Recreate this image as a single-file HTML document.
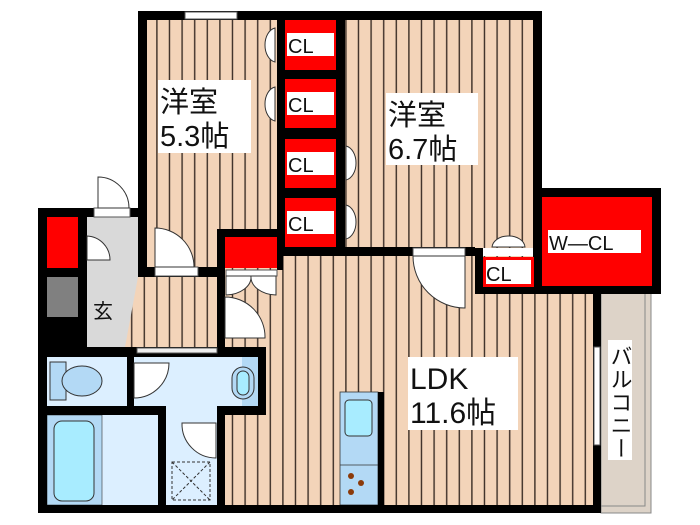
<!DOCTYPE html>
<html><head><meta charset="utf-8"><style>
html,body{margin:0;padding:0;background:#fff;width:700px;height:525px;overflow:hidden}
svg{display:block}
text{font-family:"Liberation Sans","Noto Sans CJK JP",sans-serif;fill:#111}
</style></head><body>
<svg width="700" height="525" viewBox="0 0 700 525" xmlns="http://www.w3.org/2000/svg">
<defs>
<pattern id="wood" x="0" y="0" width="12.6" height="20" patternUnits="userSpaceOnUse">
<rect width="12.6" height="20" fill="#f3d4b9"/>
<rect x="5" width="1.4" height="20" fill="#3a2d26"/>
</pattern>
</defs>
<rect x="147" y="20" width="130" height="247" fill="url(#wood)"/>
<rect x="345" y="20" width="188" height="228" fill="url(#wood)"/>
<rect x="225" y="256" width="368" height="249" fill="url(#wood)"/>
<rect x="125" y="277" width="92" height="70" fill="url(#wood)"/>
<polygon points="87,217 138,217 138,277 125,347 87,347" fill="#d9d9d9"/>
<rect x="47" y="277" width="31" height="40" fill="#808080"/>
<rect x="47" y="357" width="80" height="49" fill="#dcefff"/>
<rect x="134" y="352" width="124" height="54" fill="#dcefff"/>
<rect x="166" y="406" width="51" height="99" fill="#dcefff"/>
<rect x="47" y="415" width="111" height="90" fill="#dcefff"/>
<rect x="47" y="415" width="55" height="90" fill="#b3d9f5" stroke="#333" stroke-width="0.6"/>
<rect x="54" y="421" width="40" height="80" rx="8" fill="#a8ecff" stroke="#333" stroke-width="1"/>
<rect x="50" y="362" width="16" height="38" fill="#b3d9f5" stroke="#333" stroke-width="1"/>
<ellipse cx="82" cy="381" rx="20" ry="15" fill="#b3d9f5" stroke="#333" stroke-width="1"/>
<rect x="242" y="357" width="16" height="49" fill="#b3d9f5"/>
<rect x="232" y="367" width="22" height="32" rx="11" fill="#b3d9f5" stroke="#333" stroke-width="1"/>
<rect x="237" y="371" width="12" height="24" rx="6" fill="#a8ecff" stroke="#333" stroke-width="1"/>
<rect x="172" y="462" width="38" height="38" fill="none" stroke="#333" stroke-width="1" stroke-dasharray="3,2"/>
<path d="M172,462L210,500M210,462L172,500" stroke="#333" stroke-width="1" stroke-dasharray="3,2"/>
<rect x="340" y="392" width="38" height="113" fill="#b3d9f5" stroke="#333" stroke-width="0.8"/>
<line x1="340" y1="465" x2="378" y2="465" stroke="#333" stroke-width="0.8"/>
<rect x="345" y="400" width="27" height="36" rx="4" fill="#a8ecff" stroke="#333" stroke-width="1"/>
<circle cx="351" cy="476" r="3" fill="#8b3a0a"/><circle cx="361" cy="483" r="3" fill="#8b3a0a"/><circle cx="351" cy="492" r="3" fill="#8b3a0a"/>
<rect x="378" y="392" width="6" height="113" fill="#000"/>
<rect x="601" y="293" width="50" height="220" fill="#ddd3c8" stroke="#888" stroke-width="1"/>
<rect x="601" y="293" width="44" height="213" fill="none" stroke="#888" stroke-width="1"/>
<g fill="#000">
<rect x="138" y="11" width="404" height="9"/>
<rect x="138" y="11" width="9" height="266"/>
<rect x="277" y="11" width="8" height="245"/>
<rect x="336" y="11" width="9" height="245"/>
<rect x="285" y="70" width="51" height="9"/>
<rect x="285" y="128" width="51" height="11"/>
<rect x="285" y="188" width="51" height="10"/>
<rect x="277" y="247" width="198" height="9"/>
<rect x="533" y="11" width="9" height="186"/>
<rect x="533" y="188" width="128" height="9"/>
<rect x="652" y="188" width="9" height="105"/>
<rect x="475" y="248" width="8" height="45"/>
<rect x="475" y="286" width="186" height="8"/>
<rect x="533" y="197" width="9" height="96"/>
<rect x="593" y="286" width="8" height="227"/>
<rect x="138" y="267" width="87" height="10"/>
<rect x="217" y="229" width="66" height="8"/>
<rect x="217" y="229" width="8" height="118"/>
<rect x="277" y="229" width="6" height="41"/>
<rect x="38" y="208" width="100" height="9"/>
<rect x="38" y="208" width="9" height="305"/>
<rect x="78" y="217" width="9" height="130"/>
<rect x="47" y="268" width="31" height="9"/>
<rect x="47" y="317" width="31" height="30"/>
<rect x="38" y="347" width="227" height="10"/>
<rect x="127" y="357" width="7" height="58"/>
<rect x="258" y="347" width="8" height="68"/>
<rect x="38" y="406" width="128" height="9"/>
<rect x="158" y="406" width="8" height="99"/>
<rect x="217" y="406" width="49" height="9"/>
<rect x="217" y="406" width="8" height="99"/>
<rect x="38" y="505" width="563" height="8"/>
</g>
<g fill="#ff0000">
<rect x="285" y="20" width="51" height="50"/>
<rect x="285" y="79" width="51" height="49"/>
<rect x="285" y="139" width="51" height="49"/>
<rect x="285" y="198" width="51" height="49"/>
<rect x="225" y="237" width="52" height="31"/>
<rect x="47" y="217" width="31" height="51"/>
<rect x="542" y="197" width="110" height="89"/>
<rect x="483" y="257" width="51" height="30"/>
</g>
<g fill="#fff">
<rect x="287" y="33" width="47" height="23"/><rect x="287" y="92" width="47" height="23"/>
<rect x="287" y="152" width="47" height="23"/><rect x="287" y="211" width="47" height="23"/>
<rect x="486" y="260" width="45" height="24"/>
<rect x="548" y="230" width="93" height="23"/>
<rect x="158" y="80" width="93" height="73"/>
<rect x="386" y="93" width="92" height="72"/>
<rect x="408" y="357" width="110" height="73"/>
<rect x="608" y="340" width="24" height="120"/>
</g>
<g fill="#fff" stroke="#555" stroke-width="1">
<rect x="185" y="12" width="52" height="7"/>
<rect x="594" y="347" width="6" height="98"/>
<rect x="155" y="267" width="43" height="9"/>
<rect x="413" y="248" width="52" height="8"/>
<rect x="94" y="208" width="36" height="9"/>
<rect x="226" y="270" width="51" height="6"/>
<rect x="137" y="348" width="80" height="5" fill="#eee"/>
</g>
<g fill="#fff" stroke="#333" stroke-width="1">
<path d="M155,267 L155,228 A39,39 0 0 1 194,267Z"/>
<path d="M465,256 L413,256 A52,52 0 0 0 465,308Z"/>
<path d="M98,208 L98,177 A31,31 0 0 1 129,208Z"/>
<path d="M87,236 A24,24 0 0 1 110,260 L87,260Z"/>
<path d="M225,297 A40,40 0 0 1 265,338 L225,338Z"/>
<path d="M134,363 L169,363 A35,35 0 0 1 134,398Z"/>
<path d="M216,423 L216,458 A34,34 0 0 1 182,423Z"/>
<path d="M226,276 L226,295 A26,18 0 0 0 251,276Z"/>
<path d="M276,276 L276,295 A26,18 0 0 1 251,276Z"/>
<path d="M275,28 L275,62 A12,17 0 0 1 265,45 A12,17 0 0 1 275,28Z"/>
<path d="M275,87 L275,121 A12,17 0 0 1 265,104 A12,17 0 0 1 275,87Z"/>
<path d="M346,146 L346,180 A12,17 0 0 0 356,163 A12,17 0 0 0 346,146Z"/>
<path d="M346,205 L346,239 A12,17 0 0 0 356,222 A12,17 0 0 0 346,205Z"/>
<path d="M492,247 L525,247 A16,12 0 0 0 508,236 A16,12 0 0 0 492,247Z"/>
</g>
<text x="160" y="112" font-size="29">洋室</text>
<text x="160" y="146" font-size="29">5.3帖</text>
<text x="388" y="125" font-size="29">洋室</text>
<text x="388" y="159" font-size="29">6.7帖</text>
<text x="410" y="389" font-size="30">LDK</text>
<text x="410" y="423" font-size="30">11.6帖</text>
<text x="288" y="53" font-size="20">CL</text>
<text x="288" y="112" font-size="20">CL</text>
<text x="288" y="172" font-size="20">CL</text>
<text x="288" y="231" font-size="20">CL</text>
<text x="486" y="281" font-size="20">CL</text>
<text x="549" y="250" font-size="20">W—CL</text>
<text x="93" y="318" font-size="20">玄</text>
<text x="620" y="345" font-size="22" writing-mode="tb" letter-spacing="1">バルコニー</text>
</svg>
</body></html>
